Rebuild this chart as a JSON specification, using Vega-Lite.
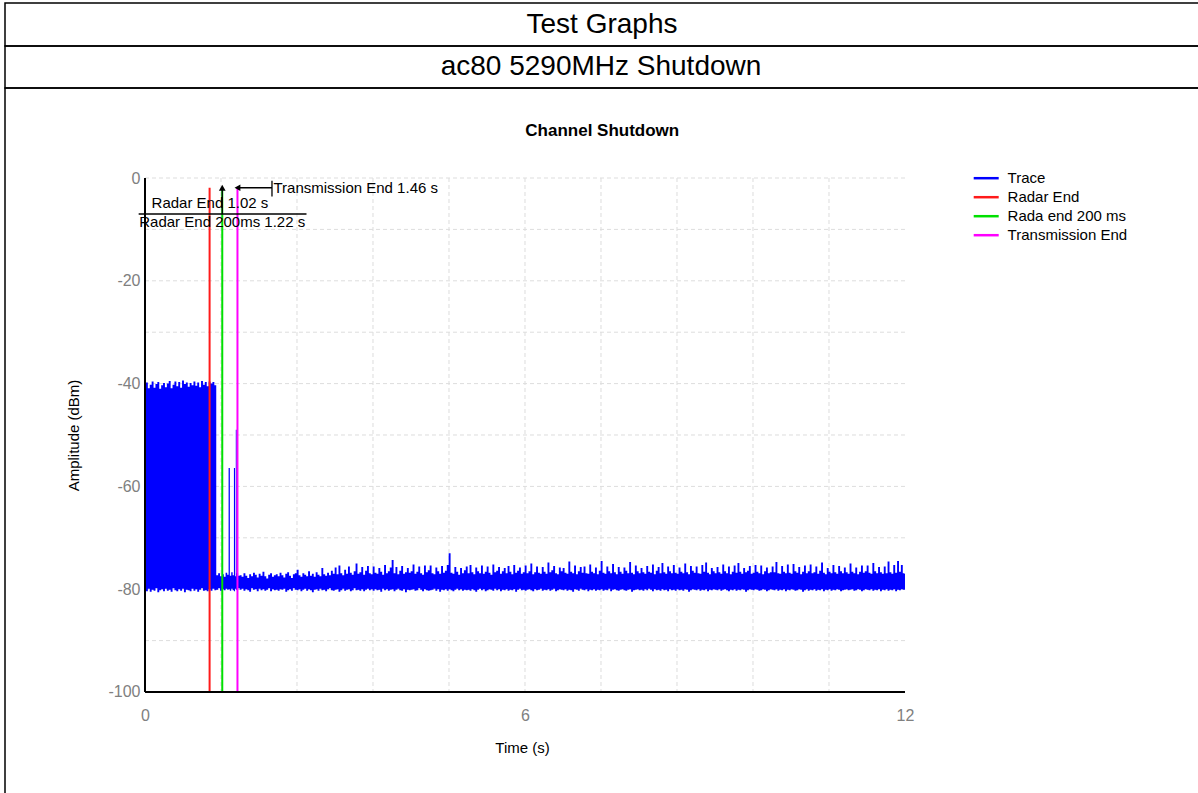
{
"$schema": "https://vega.github.io/schema/vega-lite/v6.json",
"padding": {"left": 4, "top": 2, "right": 0, "bottom": 0},
"spacing": 0,
"bounds": "flush",
"config": {"view": {"stroke": "#000000", "strokeWidth": 1.5}, "font": "Liberation Sans"},
"datasets": {
"heads": [{"panel":"A","text":"Test Graphs"},{"panel":"B","text":"ac80 5290MHz Shutdown"},{"panel":"C","text":"Channel Shutdown"}],
"gridx": [{"t":1.2},{"t":2.4},{"t":3.6},{"t":4.8},{"t":6},{"t":7.2},{"t":8.4},{"t":9.6},{"t":10.8}],
"gridy": [{"v":0},{"v":-10},{"v":-20},{"v":-30},{"v":-40},{"v":-50},{"v":-60},{"v":-70},{"v":-80},{"v":-90}],
"markers": [{"name":"Radar End","t":1.02},{"name":"Rada end 200 ms","t":1.22},{"name":"Transmission End","t":1.46}],
"notes": [{"ref":"tx","t":1.46,"label":"Transmission End 1.46 s"},{"ref":"re","t":1.02,"label":"Radar End 1.02 s"},{"ref":"r2","t":1.22,"label":"Radar End 200ms 1.22 s"}],
"trace": [
{"t":0,"lo":-80.2,"hi":-40.6},{"t":0.03,"lo":-80.4,"hi":-39.8},{"t":0.06,"lo":-79.9,"hi":-40.9},{"t":0.09,"lo":-80.5,"hi":-40.2},{"t":0.12,"lo":-80.1,"hi":-39.6},{"t":0.15,"lo":-80.3,"hi":-40.8},{"t":0.18,"lo":-79.8,"hi":-40.1},{"t":0.21,"lo":-80.6,"hi":-39.7},{"t":0.24,"lo":-80.2,"hi":-41.0},{"t":0.27,"lo":-80.0,"hi":-40.3},
{"t":0.3,"lo":-80.4,"hi":-39.9},{"t":0.33,"lo":-79.9,"hi":-40.7},{"t":0.36,"lo":-80.3,"hi":-40.0},{"t":0.39,"lo":-80.1,"hi":-39.5},{"t":0.42,"lo":-80.5,"hi":-40.9},{"t":0.45,"lo":-79.8,"hi":-40.2},{"t":0.48,"lo":-80.2,"hi":-39.6},{"t":0.51,"lo":-80.4,"hi":-40.5},{"t":0.54,"lo":-80.0,"hi":-39.7},{"t":0.57,"lo":-80.3,"hi":-40.8},
{"t":0.6,"lo":-79.9,"hi":-39.4},{"t":0.63,"lo":-80.6,"hi":-40.1},{"t":0.66,"lo":-80.1,"hi":-39.8},{"t":0.69,"lo":-80.2,"hi":-40.6},{"t":0.72,"lo":-80.4,"hi":-39.9},{"t":0.75,"lo":-79.9,"hi":-40.3},{"t":0.78,"lo":-80.3,"hi":-39.6},{"t":0.81,"lo":-80.0,"hi":-40.4},{"t":0.84,"lo":-80.5,"hi":-39.8},{"t":0.87,"lo":-80.1,"hi":-40.7},
{"t":0.9,"lo":-79.8,"hi":-39.5},{"t":0.93,"lo":-80.3,"hi":-40.2},{"t":0.96,"lo":-80.2,"hi":-39.7},{"t":0.99,"lo":-80.4,"hi":-40.5},{"t":1.02,"lo":-80.0,"hi":-39.6},{"t":1.05,"lo":-80.3,"hi":-40.0},{"t":1.08,"lo":-79.9,"hi":-39.7},{"t":1.11,"lo":-80.2,"hi":-40.3},
{"t":1.14,"lo":-80.1,"hi":-77.3},{"t":1.17,"lo":-79.8,"hi":-76.9},{"t":1.2,"lo":-80.3,"hi":-77.5},{"t":1.23,"lo":-80.0,"hi":-77.1},{"t":1.26,"lo":-80.2,"hi":-77.6},{"t":1.285,"lo":-79.9,"hi":-76.8},{"t":1.31,"lo":-80.1,"hi":-77.2},{"t":1.33,"lo":-80.0,"hi":-56.4},{"t":1.35,"lo":-80.3,"hi":-77.4},{"t":1.373,"lo":-79.9,"hi":-76.7},
{"t":1.395,"lo":-80.2,"hi":-77.3},{"t":1.413,"lo":-80.4,"hi":-56.4},{"t":1.43,"lo":-79.9,"hi":-77.5},{"t":1.437,"lo":-80.1,"hi":-49.0},{"t":1.46,"lo":-80.2,"hi":-76.9},{"t":1.48,"lo":-79.8,"hi":-77.4},
{"t":1.51,"lo":-80.1,"hi":-77.3},{"t":1.54,"lo":-79.9,"hi":-77.6},{"t":1.57,"lo":-80.3,"hi":-76.9},{"t":1.6,"lo":-80.0,"hi":-77.4},{"t":1.63,"lo":-80.2,"hi":-77.8},{"t":1.66,"lo":-80.5,"hi":-77.1},{"t":1.69,"lo":-79.8,"hi":-77.5},{"t":1.72,"lo":-80.1,"hi":-76.8},{"t":1.75,"lo":-80.0,"hi":-77.2},{"t":1.78,"lo":-80.4,"hi":-77.7},
{"t":1.81,"lo":-79.9,"hi":-77.0},{"t":1.84,"lo":-80.2,"hi":-77.4},{"t":1.87,"lo":-80.0,"hi":-76.6},{"t":1.9,"lo":-80.3,"hi":-77.5},{"t":1.93,"lo":-80.1,"hi":-77.9},{"t":1.96,"lo":-79.8,"hi":-77.2},{"t":1.99,"lo":-80.4,"hi":-76.9},{"t":2.02,"lo":-80.0,"hi":-77.6},{"t":2.05,"lo":-80.2,"hi":-77.3},{"t":2.08,"lo":-80.1,"hi":-77.1},
{"t":2.11,"lo":-80.3,"hi":-77.5},{"t":2.14,"lo":-80.0,"hi":-76.8},{"t":2.17,"lo":-80.1,"hi":-77.3},{"t":2.2,"lo":-79.9,"hi":-77.7},{"t":2.23,"lo":-80.5,"hi":-77.0},{"t":2.26,"lo":-80.2,"hi":-76.7},{"t":2.29,"lo":-80.0,"hi":-77.4},{"t":2.32,"lo":-80.3,"hi":-77.8},{"t":2.35,"lo":-79.8,"hi":-77.1},{"t":2.38,"lo":-80.1,"hi":-76.9},
{"t":2.41,"lo":-80.2,"hi":-76.2},{"t":2.44,"lo":-80.0,"hi":-77.3},{"t":2.47,"lo":-80.4,"hi":-77.6},{"t":2.5,"lo":-80.1,"hi":-76.9},{"t":2.53,"lo":-79.9,"hi":-77.2},{"t":2.56,"lo":-80.3,"hi":-77.5},{"t":2.59,"lo":-80.0,"hi":-76.5},{"t":2.62,"lo":-80.2,"hi":-77.4},{"t":2.65,"lo":-80.6,"hi":-77.0},{"t":2.68,"lo":-80.1,"hi":-77.6},
{"t":2.71,"lo":-80.0,"hi":-76.7},{"t":2.74,"lo":-80.3,"hi":-77.2},{"t":2.77,"lo":-79.9,"hi":-77.5},{"t":2.8,"lo":-80.2,"hi":-75.9},{"t":2.83,"lo":-80.1,"hi":-77.1},{"t":2.86,"lo":-80.4,"hi":-77.4},{"t":2.89,"lo":-80.0,"hi":-76.8},{"t":2.92,"lo":-79.8,"hi":-77.3},{"t":2.95,"lo":-80.2,"hi":-76.4},{"t":2.98,"lo":-80.3,"hi":-77.0},
{"t":3.01,"lo":-80.1,"hi":-75.8},{"t":3.04,"lo":-80.0,"hi":-77.1},{"t":3.07,"lo":-80.5,"hi":-75.4},{"t":3.1,"lo":-80.2,"hi":-76.9},{"t":3.13,"lo":-79.9,"hi":-77.3},{"t":3.16,"lo":-80.3,"hi":-76.2},{"t":3.19,"lo":-80.1,"hi":-77.0},{"t":3.22,"lo":-80.0,"hi":-75.6},{"t":3.25,"lo":-80.4,"hi":-76.8},{"t":3.28,"lo":-80.2,"hi":-77.2},
{"t":3.31,"lo":-79.8,"hi":-76.5},{"t":3.34,"lo":-80.2,"hi":-75.0},{"t":3.37,"lo":-80.1,"hi":-77.0},{"t":3.4,"lo":-80.3,"hi":-76.7},{"t":3.43,"lo":-80.0,"hi":-75.7},{"t":3.46,"lo":-80.4,"hi":-77.2},{"t":3.49,"lo":-80.1,"hi":-76.4},{"t":3.52,"lo":-79.9,"hi":-75.5},{"t":3.55,"lo":-80.2,"hi":-76.9},{"t":3.58,"lo":-80.0,"hi":-77.1},
{"t":3.61,"lo":-80.3,"hi":-75.6},{"t":3.64,"lo":-80.0,"hi":-76.8},{"t":3.67,"lo":-80.2,"hi":-77.0},{"t":3.7,"lo":-80.1,"hi":-75.9},{"t":3.73,"lo":-80.5,"hi":-76.6},{"t":3.76,"lo":-79.9,"hi":-77.2},{"t":3.79,"lo":-80.2,"hi":-75.3},{"t":3.82,"lo":-80.0,"hi":-76.9},{"t":3.85,"lo":-80.3,"hi":-76.5},{"t":3.88,"lo":-80.1,"hi":-75.8},
{"t":3.91,"lo":-80.0,"hi":-74.3},{"t":3.94,"lo":-80.4,"hi":-76.9},{"t":3.97,"lo":-80.1,"hi":-75.7},{"t":4.0,"lo":-79.9,"hi":-77.1},{"t":4.03,"lo":-80.2,"hi":-76.4},{"t":4.06,"lo":-80.3,"hi":-75.5},{"t":4.09,"lo":-80.0,"hi":-77.0},{"t":4.12,"lo":-80.6,"hi":-76.7},{"t":4.15,"lo":-80.1,"hi":-75.9},{"t":4.18,"lo":-80.2,"hi":-76.8},
{"t":4.21,"lo":-80.1,"hi":-76.5},{"t":4.24,"lo":-80.0,"hi":-75.2},{"t":4.27,"lo":-80.3,"hi":-77.0},{"t":4.3,"lo":-80.2,"hi":-76.6},{"t":4.33,"lo":-79.8,"hi":-75.6},{"t":4.36,"lo":-80.1,"hi":-76.9},{"t":4.39,"lo":-80.4,"hi":-77.2},{"t":4.42,"lo":-80.0,"hi":-75.4},{"t":4.45,"lo":-80.2,"hi":-76.7},{"t":4.48,"lo":-80.3,"hi":-76.3},
{"t":4.51,"lo":-80.2,"hi":-75.4},{"t":4.54,"lo":-80.1,"hi":-76.9},{"t":4.57,"lo":-79.9,"hi":-77.1},{"t":4.6,"lo":-80.3,"hi":-75.8},{"t":4.63,"lo":-80.0,"hi":-76.5},{"t":4.66,"lo":-80.5,"hi":-77.0},{"t":4.69,"lo":-80.1,"hi":-75.5},{"t":4.72,"lo":-80.2,"hi":-76.8},{"t":4.75,"lo":-80.0,"hi":-76.4},{"t":4.78,"lo":-80.3,"hi":-75.3},
{"t":4.81,"lo":-80.0,"hi":-73.0},{"t":4.84,"lo":-80.2,"hi":-76.8},{"t":4.87,"lo":-80.4,"hi":-77.0},{"t":4.9,"lo":-80.1,"hi":-75.7},{"t":4.93,"lo":-79.9,"hi":-76.6},{"t":4.96,"lo":-80.2,"hi":-77.2},{"t":4.99,"lo":-80.0,"hi":-75.9},{"t":5.02,"lo":-80.3,"hi":-76.9},{"t":5.05,"lo":-80.1,"hi":-76.3},{"t":5.08,"lo":-80.2,"hi":-75.6},
{"t":5.11,"lo":-80.1,"hi":-76.9},{"t":5.14,"lo":-80.3,"hi":-75.3},{"t":5.17,"lo":-80.0,"hi":-76.7},{"t":5.2,"lo":-80.2,"hi":-77.1},{"t":5.23,"lo":-80.5,"hi":-75.8},{"t":5.26,"lo":-80.1,"hi":-76.5},{"t":5.29,"lo":-79.9,"hi":-76.9},{"t":5.32,"lo":-80.2,"hi":-75.4},{"t":5.35,"lo":-80.0,"hi":-77.0},{"t":5.38,"lo":-80.4,"hi":-76.6},
{"t":5.41,"lo":-80.2,"hi":-75.6},{"t":5.44,"lo":-80.0,"hi":-76.8},{"t":5.47,"lo":-80.1,"hi":-77.2},{"t":5.5,"lo":-80.3,"hi":-75.2},{"t":5.53,"lo":-79.9,"hi":-76.7},{"t":5.56,"lo":-80.2,"hi":-76.4},{"t":5.59,"lo":-80.0,"hi":-75.7},{"t":5.62,"lo":-80.4,"hi":-77.0},{"t":5.65,"lo":-80.1,"hi":-76.5},{"t":5.68,"lo":-80.2,"hi":-75.9},
{"t":5.71,"lo":-80.0,"hi":-76.9},{"t":5.74,"lo":-80.3,"hi":-75.5},{"t":5.77,"lo":-80.1,"hi":-76.6},{"t":5.8,"lo":-80.2,"hi":-77.1},{"t":5.83,"lo":-80.0,"hi":-75.3},{"t":5.86,"lo":-80.5,"hi":-76.8},{"t":5.89,"lo":-80.1,"hi":-76.4},{"t":5.92,"lo":-79.9,"hi":-75.8},{"t":5.95,"lo":-80.2,"hi":-77.0},{"t":5.98,"lo":-80.1,"hi":-76.7},
{"t":6.01,"lo":-80.3,"hi":-75.4},{"t":6.04,"lo":-80.1,"hi":-76.9},{"t":6.07,"lo":-80.0,"hi":-76.5},{"t":6.1,"lo":-80.2,"hi":-75.0},{"t":6.13,"lo":-80.4,"hi":-77.1},{"t":6.16,"lo":-80.0,"hi":-76.7},{"t":6.19,"lo":-80.2,"hi":-75.6},{"t":6.22,"lo":-80.1,"hi":-76.8},{"t":6.25,"lo":-79.9,"hi":-77.0},{"t":6.28,"lo":-80.3,"hi":-75.7},
{"t":6.31,"lo":-80.1,"hi":-76.6},{"t":6.34,"lo":-80.2,"hi":-77.0},{"t":6.37,"lo":-80.0,"hi":-74.8},{"t":6.4,"lo":-80.3,"hi":-76.7},{"t":6.43,"lo":-80.1,"hi":-76.3},{"t":6.46,"lo":-79.9,"hi":-75.5},{"t":6.49,"lo":-80.4,"hi":-76.9},{"t":6.52,"lo":-80.2,"hi":-77.1},{"t":6.55,"lo":-80.0,"hi":-75.8},{"t":6.58,"lo":-80.1,"hi":-76.5},
{"t":6.61,"lo":-80.2,"hi":-75.9},{"t":6.64,"lo":-80.0,"hi":-76.8},{"t":6.67,"lo":-80.3,"hi":-77.0},{"t":6.7,"lo":-80.1,"hi":-74.6},{"t":6.73,"lo":-80.2,"hi":-76.6},{"t":6.76,"lo":-80.5,"hi":-76.9},{"t":6.79,"lo":-80.0,"hi":-75.4},{"t":6.82,"lo":-80.1,"hi":-77.1},{"t":6.85,"lo":-80.3,"hi":-76.5},{"t":6.88,"lo":-79.9,"hi":-75.7},
{"t":6.91,"lo":-80.1,"hi":-76.8},{"t":6.94,"lo":-80.2,"hi":-75.6},{"t":6.97,"lo":-80.0,"hi":-76.9},{"t":7.0,"lo":-80.4,"hi":-77.0},{"t":7.03,"lo":-80.1,"hi":-75.2},{"t":7.06,"lo":-80.2,"hi":-76.6},{"t":7.09,"lo":-80.0,"hi":-76.9},{"t":7.12,"lo":-80.3,"hi":-75.8},{"t":7.15,"lo":-80.1,"hi":-77.1},{"t":7.18,"lo":-80.2,"hi":-76.4},
{"t":7.21,"lo":-80.0,"hi":-74.5},{"t":7.24,"lo":-80.3,"hi":-76.8},{"t":7.27,"lo":-80.1,"hi":-77.0},{"t":7.3,"lo":-80.2,"hi":-75.6},{"t":7.33,"lo":-79.9,"hi":-76.5},{"t":7.36,"lo":-80.4,"hi":-76.9},{"t":7.39,"lo":-80.1,"hi":-75.1},{"t":7.42,"lo":-80.0,"hi":-76.7},{"t":7.45,"lo":-80.2,"hi":-77.1},{"t":7.48,"lo":-80.3,"hi":-75.7},
{"t":7.51,"lo":-80.1,"hi":-76.6},{"t":7.54,"lo":-80.0,"hi":-77.0},{"t":7.57,"lo":-80.2,"hi":-75.8},{"t":7.6,"lo":-80.3,"hi":-76.4},{"t":7.63,"lo":-80.1,"hi":-76.9},{"t":7.66,"lo":-80.0,"hi":-74.7},{"t":7.69,"lo":-80.5,"hi":-76.8},{"t":7.72,"lo":-80.2,"hi":-77.1},{"t":7.75,"lo":-80.1,"hi":-75.4},{"t":7.78,"lo":-80.0,"hi":-76.5},
{"t":7.81,"lo":-80.2,"hi":-76.9},{"t":7.84,"lo":-80.1,"hi":-75.9},{"t":7.87,"lo":-80.3,"hi":-76.7},{"t":7.9,"lo":-80.0,"hi":-77.0},{"t":7.93,"lo":-80.2,"hi":-75.5},{"t":7.96,"lo":-79.9,"hi":-76.6},{"t":7.99,"lo":-80.1,"hi":-76.8},{"t":8.02,"lo":-80.4,"hi":-75.2},{"t":8.05,"lo":-80.0,"hi":-77.1},{"t":8.08,"lo":-80.2,"hi":-76.4},
{"t":8.11,"lo":-80.1,"hi":-75.7},{"t":8.14,"lo":-80.3,"hi":-76.9},{"t":8.17,"lo":-80.0,"hi":-74.9},{"t":8.2,"lo":-80.2,"hi":-76.7},{"t":8.23,"lo":-80.1,"hi":-77.0},{"t":8.26,"lo":-80.4,"hi":-75.6},{"t":8.29,"lo":-80.0,"hi":-76.5},{"t":8.32,"lo":-80.2,"hi":-76.9},{"t":8.35,"lo":-80.1,"hi":-75.3},{"t":8.38,"lo":-80.3,"hi":-76.8},
{"t":8.41,"lo":-80.0,"hi":-77.0},{"t":8.44,"lo":-80.2,"hi":-75.8},{"t":8.47,"lo":-80.1,"hi":-76.6},{"t":8.5,"lo":-80.3,"hi":-76.9},{"t":8.53,"lo":-80.0,"hi":-75.0},{"t":8.56,"lo":-80.1,"hi":-76.7},{"t":8.59,"lo":-80.5,"hi":-77.1},{"t":8.62,"lo":-80.2,"hi":-75.5},{"t":8.65,"lo":-80.0,"hi":-76.4},{"t":8.68,"lo":-80.1,"hi":-76.8},
{"t":8.71,"lo":-80.2,"hi":-75.6},{"t":8.74,"lo":-80.0,"hi":-76.9},{"t":8.77,"lo":-80.3,"hi":-77.0},{"t":8.8,"lo":-80.1,"hi":-75.3},{"t":8.83,"lo":-80.2,"hi":-76.6},{"t":8.86,"lo":-80.0,"hi":-74.8},{"t":8.89,"lo":-80.4,"hi":-76.8},{"t":8.92,"lo":-80.1,"hi":-77.1},{"t":8.95,"lo":-80.2,"hi":-75.9},{"t":8.98,"lo":-80.0,"hi":-76.5},
{"t":9.01,"lo":-80.1,"hi":-76.9},{"t":9.04,"lo":-80.2,"hi":-75.7},{"t":9.07,"lo":-80.0,"hi":-76.7},{"t":9.1,"lo":-80.3,"hi":-77.0},{"t":9.13,"lo":-80.1,"hi":-75.2},{"t":9.16,"lo":-80.0,"hi":-76.5},{"t":9.19,"lo":-80.2,"hi":-76.9},{"t":9.22,"lo":-80.4,"hi":-75.6},{"t":9.25,"lo":-80.1,"hi":-77.1},{"t":9.28,"lo":-80.2,"hi":-76.6},
{"t":9.31,"lo":-80.0,"hi":-75.4},{"t":9.34,"lo":-80.3,"hi":-76.8},{"t":9.37,"lo":-80.1,"hi":-74.9},{"t":9.4,"lo":-80.2,"hi":-76.6},{"t":9.43,"lo":-80.0,"hi":-77.0},{"t":9.46,"lo":-80.1,"hi":-75.9},{"t":9.49,"lo":-80.5,"hi":-76.7},{"t":9.52,"lo":-80.2,"hi":-76.4},{"t":9.55,"lo":-80.0,"hi":-75.5},{"t":9.58,"lo":-80.1,"hi":-77.0},
{"t":9.61,"lo":-80.2,"hi":-76.8},{"t":9.64,"lo":-80.0,"hi":-75.3},{"t":9.67,"lo":-80.1,"hi":-76.6},{"t":9.7,"lo":-80.3,"hi":-76.9},{"t":9.73,"lo":-80.2,"hi":-75.4},{"t":9.76,"lo":-80.0,"hi":-77.1},{"t":9.79,"lo":-80.1,"hi":-76.5},{"t":9.82,"lo":-80.4,"hi":-75.8},{"t":9.85,"lo":-80.2,"hi":-76.9},{"t":9.88,"lo":-80.0,"hi":-76.7},
{"t":9.91,"lo":-80.1,"hi":-75.6},{"t":9.94,"lo":-80.2,"hi":-76.7},{"t":9.97,"lo":-80.0,"hi":-74.7},{"t":10.0,"lo":-80.3,"hi":-76.9},{"t":10.03,"lo":-80.1,"hi":-77.0},{"t":10.06,"lo":-80.2,"hi":-75.5},{"t":10.09,"lo":-80.0,"hi":-76.6},{"t":10.12,"lo":-80.4,"hi":-76.9},{"t":10.15,"lo":-80.1,"hi":-75.2},{"t":10.18,"lo":-80.2,"hi":-76.8},
{"t":10.21,"lo":-80.0,"hi":-77.0},{"t":10.24,"lo":-80.1,"hi":-75.1},{"t":10.27,"lo":-80.3,"hi":-76.5},{"t":10.3,"lo":-80.2,"hi":-76.8},{"t":10.33,"lo":-80.0,"hi":-75.7},{"t":10.36,"lo":-80.1,"hi":-77.1},{"t":10.39,"lo":-80.5,"hi":-76.6},{"t":10.42,"lo":-80.2,"hi":-75.4},{"t":10.45,"lo":-80.0,"hi":-76.9},{"t":10.48,"lo":-80.3,"hi":-76.5},
{"t":10.51,"lo":-80.1,"hi":-75.2},{"t":10.54,"lo":-80.2,"hi":-76.9},{"t":10.57,"lo":-80.0,"hi":-76.7},{"t":10.6,"lo":-80.3,"hi":-75.6},{"t":10.63,"lo":-80.1,"hi":-77.0},{"t":10.66,"lo":-80.2,"hi":-76.4},{"t":10.69,"lo":-80.0,"hi":-74.8},{"t":10.72,"lo":-80.4,"hi":-76.8},{"t":10.75,"lo":-80.1,"hi":-77.1},{"t":10.78,"lo":-80.2,"hi":-75.9},
{"t":10.81,"lo":-80.0,"hi":-76.6},{"t":10.84,"lo":-80.3,"hi":-76.9},{"t":10.87,"lo":-80.1,"hi":-75.3},{"t":10.9,"lo":-80.2,"hi":-76.7},{"t":10.93,"lo":-80.0,"hi":-77.0},{"t":10.96,"lo":-80.1,"hi":-75.5},{"t":10.99,"lo":-80.4,"hi":-76.5},{"t":11.02,"lo":-80.2,"hi":-76.9},{"t":11.05,"lo":-80.1,"hi":-75.8},{"t":11.08,"lo":-80.0,"hi":-76.7},
{"t":11.11,"lo":-80.2,"hi":-77.0},{"t":11.14,"lo":-80.1,"hi":-75.0},{"t":11.17,"lo":-80.0,"hi":-76.6},{"t":11.2,"lo":-80.3,"hi":-76.9},{"t":11.23,"lo":-80.2,"hi":-75.8},{"t":11.26,"lo":-80.0,"hi":-77.1},{"t":11.29,"lo":-80.1,"hi":-76.6},{"t":11.32,"lo":-80.4,"hi":-75.4},{"t":11.35,"lo":-80.2,"hi":-76.8},{"t":11.38,"lo":-80.0,"hi":-76.5},
{"t":11.41,"lo":-80.1,"hi":-75.4},{"t":11.44,"lo":-80.2,"hi":-76.8},{"t":11.47,"lo":-80.0,"hi":-77.0},{"t":11.5,"lo":-80.3,"hi":-74.9},{"t":11.53,"lo":-80.1,"hi":-76.5},{"t":11.56,"lo":-80.2,"hi":-76.9},{"t":11.59,"lo":-80.0,"hi":-75.7},{"t":11.62,"lo":-80.4,"hi":-76.7},{"t":11.65,"lo":-80.1,"hi":-77.0},{"t":11.68,"lo":-80.2,"hi":-75.6},
{"t":11.71,"lo":-80.0,"hi":-76.9},{"t":11.74,"lo":-80.3,"hi":-74.6},{"t":11.77,"lo":-80.1,"hi":-76.7},{"t":11.8,"lo":-80.2,"hi":-77.0},{"t":11.83,"lo":-80.0,"hi":-75.3},{"t":11.86,"lo":-80.4,"hi":-76.8},{"t":11.89,"lo":-80.1,"hi":-74.5},{"t":11.92,"lo":-80.2,"hi":-76.6},{"t":11.95,"lo":-80.0,"hi":-75.3},{"t":11.98,"lo":-80.1,"hi":-76.9},
{"t":12.0,"lo":-80.1,"hi":-77.0}
]
},
"vconcat": [
{
"width": 1200, "height": 43,
"data": {"name": "heads"},
"transform": [{"filter": "datum.panel === 'A'"}],
"mark": {"type": "text", "fontSize": 28, "font": "Liberation Sans", "align": "center", "baseline": "middle", "dx": -3, "color": "#000000"},
"encoding": {
"x": {"datum": 0.5, "type": "quantitative", "scale": {"domain": [0, 1]}, "axis": null},
"y": {"datum": 0.5, "type": "quantitative", "scale": {"domain": [0, 1]}, "axis": null},
"text": {"field": "text", "type": "nominal"}
}
},
{
"width": 1200, "height": 42,
"data": {"name": "heads"},
"transform": [{"filter": "datum.panel === 'B'"}],
"mark": {"type": "text", "fontSize": 28, "font": "Liberation Sans", "align": "center", "baseline": "middle", "dx": -4, "color": "#000000"},
"encoding": {
"x": {"datum": 0.5, "type": "quantitative", "scale": {"domain": [0, 1]}, "axis": null},
"y": {"datum": 0.5, "type": "quantitative", "scale": {"domain": [0, 1]}, "axis": null},
"text": {"field": "text", "type": "nominal"}
}
},
{
"width": 1200, "height": 707,
"layer": [
{
"data": {"name": "gridx"},
"mark": {"type": "rule", "color": "#dddddd", "strokeWidth": 1, "strokeDash": [4, 3]},
"encoding": {"x": {"field": "t", "type": "quantitative"}, "y": {"datum": 0}, "y2": {"datum": -100}}
},
{
"data": {"name": "gridy"},
"mark": {"type": "rule", "color": "#dddddd", "strokeWidth": 1, "strokeDash": [4, 3]},
"encoding": {"y": {"field": "v", "type": "quantitative"}, "x": {"datum": 0}, "x2": {"datum": 12}}
},
{
"data": {"name": "trace"},
"mark": {"type": "area", "interpolate": "step", "opacity": 1},
"encoding": {
"x": {"field": "t", "type": "quantitative",
"scale": {"domain": [-2.2105, 16.737], "nice": false, "zero": false},
"axis": {"values": [0, 6, 12], "labelExpr": "datum.value + ''", "title": "Time (s)", "domain": false, "ticks": false, "grid": false, "offset": -103, "labelPadding": 15, "labelFontSize": 16, "labelFont": "Liberation Sans", "labelColor": "#808080", "labelFlush": false, "labelOverlap": false, "titleFont": "Liberation Sans", "titleFontSize": 15, "titleFontWeight": "normal", "titleColor": "#000000", "titleX": 517, "titlePadding": 17}},
"y": {"field": "hi", "type": "quantitative",
"scale": {"domain": [-120.04, 17.51], "nice": false, "zero": false},
"axis": {"values": [0, -20, -40, -60, -80, -100], "labelExpr": "datum.value + ''", "title": "Amplitude (dBm)", "domain": false, "ticks": false, "grid": false, "offset": -140, "labelPadding": 5, "labelFontSize": 16, "labelFont": "Liberation Sans", "labelColor": "#808080", "labelOverlap": false, "titleFont": "Liberation Sans", "titleFontSize": 15, "titleFontWeight": "normal", "titleColor": "#000000", "titleX": -72, "titleY": 347, "titleBaseline": "middle"}},
"y2": {"field": "lo"},
"color": {"datum": "Trace", "type": "nominal",
"scale": {"domain": ["Trace", "Radar End", "Rada end 200 ms", "Transmission End"], "range": ["#0000ff", "#ff1a1a", "#00e000", "#ff00ff"]},
"legend": {"title": null, "orient": "none", "legendX": 970.7, "legendY": 164.7, "symbolType": "M-1.374,0H1.374", "symbolSize": 331, "symbolStrokeWidth": 2.5, "labelFont": "Liberation Sans", "labelFontSize": 15, "labelColor": "#000000", "labelOffset": 10.9, "rowPadding": 0, "padding": 0,
"encode": {"symbols": {"update": {"stroke": {"scale": "color", "field": "value"}, "strokeWidth": {"value": 2.5}, "fill": {"value": "transparent"}, "opacity": {"value": 1}}}}}}
}
},
{
"data": {"name": "markers"},
"mark": {"type": "rule", "strokeWidth": 2},
"encoding": {"x": {"field": "t", "type": "quantitative"}, "y": {"datum": -1.9}, "y2": {"datum": -100}, "color": {"field": "name", "type": "nominal", "legend": {"title": null}}}
},
{
"data": {"values": [{}]},
"mark": {"type": "rule", "color": "#000000", "strokeWidth": 2},
"encoding": {"x": {"datum": 0}, "y": {"datum": 0}, "y2": {"datum": -100}}
},
{
"data": {"values": [{}]},
"mark": {"type": "rule", "color": "#000000", "strokeWidth": 2},
"encoding": {"x": {"datum": 0}, "x2": {"datum": 12}, "y": {"datum": -100}}
},
{
"data": {"name": "heads"},
"transform": [{"filter": "datum.panel === 'C'"}],
"mark": {"type": "text", "align": "center", "baseline": "middle", "font": "Liberation Sans", "fontSize": 17, "fontWeight": "bold", "color": "#000000"},
"encoding": {"x": {"datum": 7.22}, "y": {"datum": 9.14}, "text": {"field": "text"}}
},
{
"data": {"name": "notes"},
"transform": [{"filter": "datum.ref === 'tx'"}],
"mark": {"type": "rule", "color": "#000000", "strokeWidth": 1.3},
"encoding": {"x": {"field": "t", "type": "quantitative"}, "x2": {"datum": 2.005}, "y": {"datum": -1.9}}
},
{
"data": {"name": "notes"},
"transform": [{"filter": "datum.ref === 'tx'"}],
"mark": {"type": "rule", "color": "#000000", "strokeWidth": 1.3},
"encoding": {"x": {"datum": 2.005}, "y": {"datum": -0.55}, "y2": {"datum": -3.6}}
},
{
"data": {"name": "notes"},
"transform": [{"filter": "datum.ref === 'tx'"}],
"mark": {"type": "point", "shape": "triangle-left", "filled": true, "color": "#000000", "size": 45, "dx": 4, "opacity": 1},
"encoding": {"x": {"field": "t", "type": "quantitative"}, "y": {"datum": -1.9}}
},
{
"data": {"name": "notes"},
"transform": [{"filter": "datum.ref === 'tx'"}],
"mark": {"type": "text", "align": "left", "baseline": "middle", "dx": 36, "font": "Liberation Sans", "fontSize": 15, "color": "#000000"},
"encoding": {"x": {"field": "t", "type": "quantitative"}, "y": {"datum": -1.95}, "text": {"field": "label"}}
},
{
"data": {"name": "notes"},
"transform": [{"filter": "datum.ref === 'r2'"}],
"mark": {"type": "rule", "color": "#000000", "strokeWidth": 1.3},
"encoding": {"x": {"field": "t", "type": "quantitative"}, "y": {"datum": -2.3}, "y2": {"datum": -7.0}}
},
{
"data": {"name": "notes"},
"transform": [{"filter": "datum.ref === 'r2'"}],
"mark": {"type": "point", "shape": "triangle-up", "filled": true, "color": "#000000", "size": 45, "dy": 3, "opacity": 1},
"encoding": {"x": {"field": "t", "type": "quantitative"}, "y": {"datum": -1.9}}
},
{
"data": {"name": "notes"},
"transform": [{"filter": "datum.ref === 'r2'"}],
"mark": {"type": "rule", "color": "#000000", "strokeWidth": 1.3},
"encoding": {"x": {"datum": -0.1}, "x2": {"datum": 2.55}, "y": {"datum": -7.0}}
},
{
"data": {"name": "notes"},
"transform": [{"filter": "datum.ref === 're'"}],
"mark": {"type": "text", "align": "left", "baseline": "middle", "dx": -58, "font": "Liberation Sans", "fontSize": 15, "color": "#000000"},
"encoding": {"x": {"field": "t", "type": "quantitative"}, "y": {"datum": -4.9}, "text": {"field": "label"}}
},
{
"data": {"name": "notes"},
"transform": [{"filter": "datum.ref === 'r2'"}],
"mark": {"type": "text", "align": "left", "baseline": "middle", "dx": -83, "font": "Liberation Sans", "fontSize": 15, "color": "#000000"},
"encoding": {"x": {"field": "t", "type": "quantitative"}, "y": {"datum": -8.5}, "text": {"field": "label"}}
}
]
}
]
}
